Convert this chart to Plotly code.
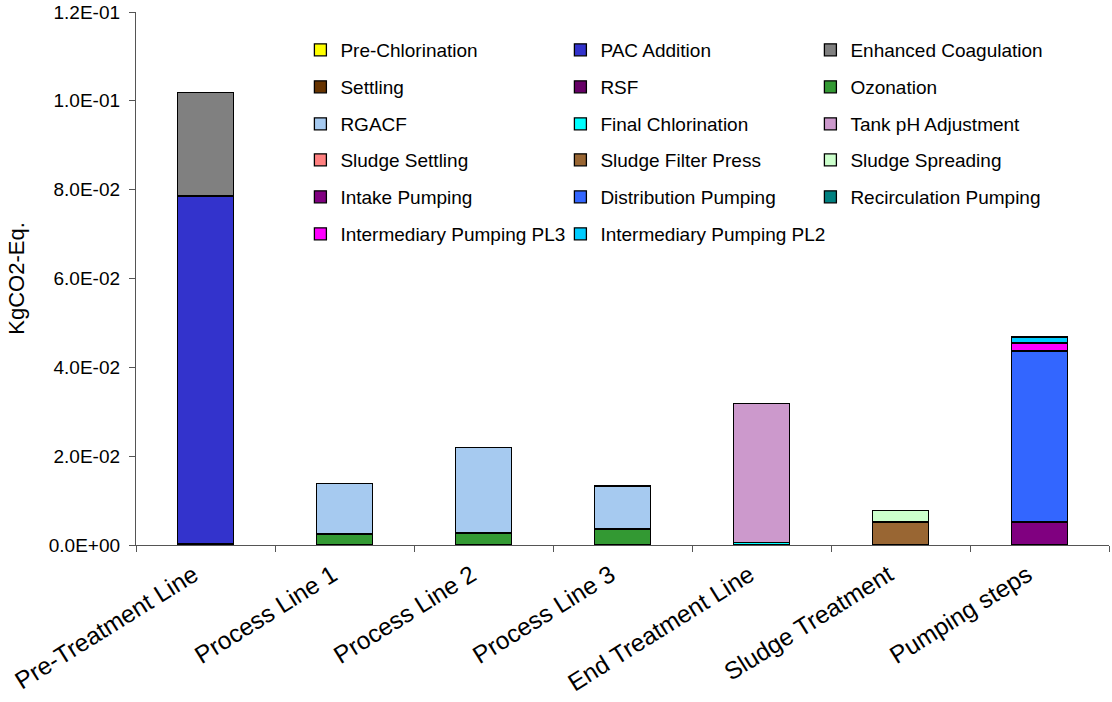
import plotly.graph_objects as go

# Treatment stages on the x axis
categories = ["Pre-Treatment Line", "Process Line 1", "Process Line 2", "Process Line 3",
              "End Treatment Line", "Sludge Treatment", "Pumping steps"]

# Emissions per step (kg CO2-eq.), one value per stage (None = step not in stage)
pre_chlorination = [0.0004, None, None, None, None, None, None]
pac_addition = [0.0782, None, None, None, None, None, None]
enhanced_coagulation = [0.0232, None, None, None, None, None, None]
settling = [None, None, None, None, None, None, None]
rsf = [None, None, None, None, None, None, None]
ozonation = [None, 0.0025, 0.0027, 0.0036, None, None, None]
rgacf = [None, 0.0114, 0.0192, 0.0097, None, None, None]
final_chlorination = [None, None, None, None, 0.0006, None, None]
tank_ph_adjustment = [None, None, None, None, 0.0312, None, None]
sludge_settling = [None, None, None, None, None, None, None]
sludge_filter_press = [None, None, None, None, None, 0.0052, None]
sludge_spreading = [None, None, None, None, None, 0.0025, None]
intake_pumping = [None, None, None, None, None, None, 0.0052]
distribution_pumping = [None, None, None, None, None, None, 0.0385]
recirculation_pumping = [None, None, None, None, None, None, None]
intermediary_pumping_pl3 = [None, None, None, None, None, None, 0.0018]
intermediary_pumping_pl2 = [None, None, None, None, None, None, 0.0013]

series = [
    ("Pre-Chlorination", pre_chlorination),
    ("PAC Addition", pac_addition),
    ("Enhanced Coagulation", enhanced_coagulation),
    ("Settling", settling),
    ("RSF", rsf),
    ("Ozonation", ozonation),
    ("RGACF", rgacf),
    ("Final Chlorination", final_chlorination),
    ("Tank pH Adjustment", tank_ph_adjustment),
    ("Sludge Settling", sludge_settling),
    ("Sludge Filter Press", sludge_filter_press),
    ("Sludge Spreading", sludge_spreading),
    ("Intake Pumping", intake_pumping),
    ("Distribution Pumping", distribution_pumping),
    ("Recirculation Pumping", recirculation_pumping),
    ("Intermediary Pumping PL3", intermediary_pumping_pl3),
    ("Intermediary Pumping PL2", intermediary_pumping_pl2),
]

colors = ["#FFFF00", "#3333CC", "#808080", "#663300", "#660066", "#339933",
          "#A6CAF0", "#00FFFF", "#CC99CC", "#FF8080", "#996633", "#CCFFCC",
          "#800080", "#3366FF", "#008080", "#FF00FF", "#00CCFF"]

y_tickvals = [0.0, 0.02, 0.04, 0.06, 0.08, 0.10, 0.12]
y_ticktext = ["0.0E+00", "2.0E-02", "4.0E-02", "6.0E-02", "8.0E-02", "1.0E-01", "1.2E-01"]

FONT = "Liberation Sans, Arial, sans-serif"

# plot area in pixels (fixed margins)
W, H = 1112, 702
ML, MR, MT, MB = 136, 3, 12, 157
PW = W - ML - MR
PH = H - MT - MB

# legend grid: text start of each column, centre line of each row (pixels)
col_text_x = [341, 601, 851]
row_center_y = [50, 87, 124, 160, 197, 234]

fig = go.Figure()
legend_cfg = {}
for i, ((name, vals), col) in enumerate(zip(series, colors)):
    lid = "legend" if i == 0 else f"legend{i + 1}"
    fig.add_trace(go.Bar(
        name=name, x=categories, y=vals,
        marker=dict(color=col, line=dict(color="#000000", width=1.3)),
        width=0.4,
        legend=lid,
    ))
    r, c = divmod(i, 3)
    legend_cfg[lid] = dict(
        x=(col_text_x[c] - 40.6 - ML) / PW, xanchor="left",
        y=(MT + PH - row_center_y[r]) / PH, yanchor="middle",
        font=dict(family=FONT, size=19, color="#000000"),
        bgcolor="rgba(0,0,0,0)", itemclick=False,
    )

fig.update_layout(
    width=W, height=H,
    margin=dict(l=ML, r=MR, t=MT, b=MB),
    paper_bgcolor="white", plot_bgcolor="white",
    barmode="stack",
    bargap=0.6,
    font=dict(family=FONT, color="#000000"),
    xaxis=dict(
        type="category", automargin=False,
        tickson="boundaries", ticks="outside", ticklen=6, tickcolor="#555555",
        showline=True, linecolor="#555555", linewidth=1.3,
        tickangle=-32,
        ticklabelstandoff=5, ticklabelshift=-12,
        tickfont=dict(family=FONT, size=24.5, color="#000000"),
        showgrid=False,
    ),
    yaxis=dict(
        range=[0, 0.12], automargin=False,
        tickvals=y_tickvals, ticktext=y_ticktext,
        ticks="outside", ticklen=6, tickcolor="#555555",
        showline=True, linecolor="#555555", linewidth=1.3,
        ticklabelstandoff=5,
        tickfont=dict(family=FONT, size=19, color="#000000"),
        showgrid=False, zeroline=False,
        title=dict(text="KgCO2-Eq.", font=dict(family=FONT, size=22, color="#000000"), standoff=18),
    ),
    showlegend=True,
    **legend_cfg,
)

fig.write_html("out.html")
